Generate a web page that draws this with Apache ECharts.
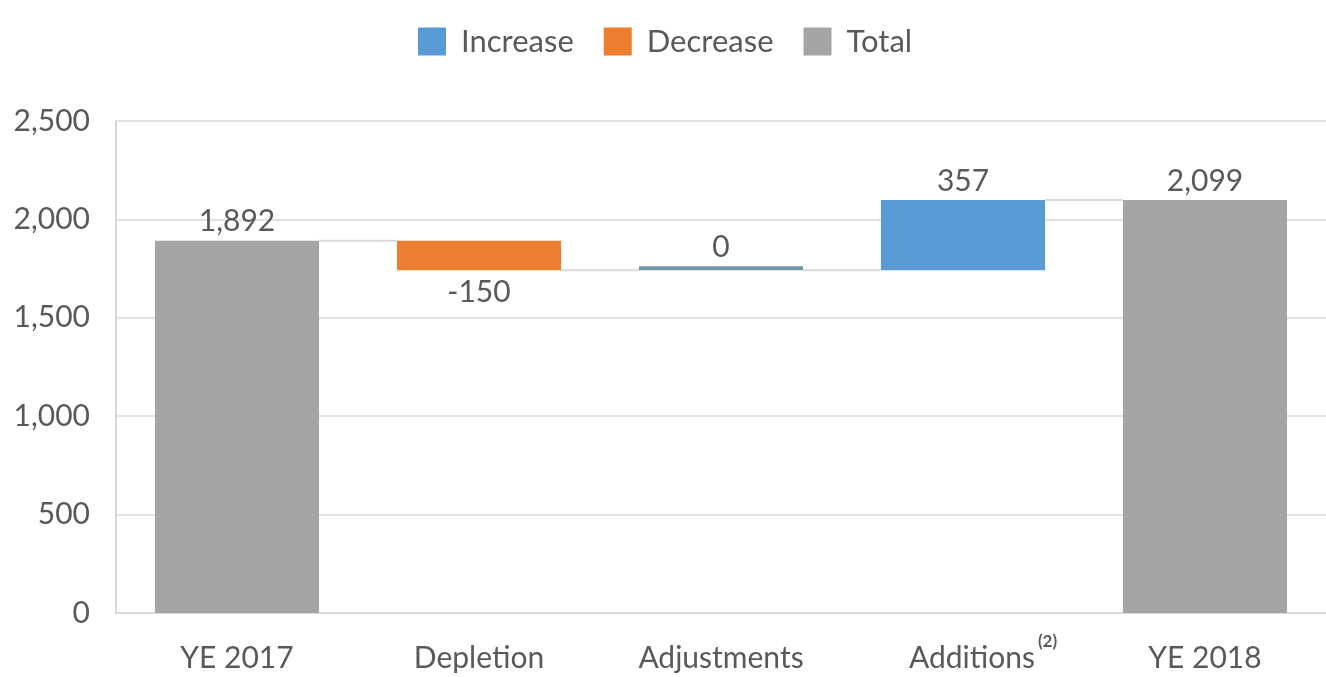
<!DOCTYPE html>
<html><head><meta charset="utf-8">
<script src="https://cdn.jsdelivr.net/npm/echarts@6/dist/echarts.min.js"></script>
<style>html,body{margin:0;padding:0;background:#fff}#c{width:1326px;height:677px}</style>
</head><body><div id="c"></div>
<script>
const categories = ['YE 2017', 'Depletion', 'Adjustments', 'Additions', 'YE 2018'];
const totalValues = [1892, null, null, null, 2099];
const increaseValues = [null, null, 0, 357, null];
const decreaseValues = [null, 150, null, null, null];
const yTicks = [0, 500, 1000, 1500, 2000, 2500];

// running level after each step
const base = [], levels = [];
let run = 0;
for (let i = 0; i < categories.length; i++) {
  if (totalValues[i] != null) { run = totalValues[i]; base.push('-'); }
  else if (decreaseValues[i] != null) { run -= decreaseValues[i]; base.push(run); }
  else { base.push(run); run += increaseValues[i]; }
  levels.push(run);
}
const connectors = [];
for (let i = 0; i < categories.length - 1; i++) connectors.push([i, levels[i]]);

const FONT = 'Lato, "Open Sans", sans-serif';
const TXT = '#595959';
const BW = 0.678;
const LBL = 30;

const chart = echarts.init(document.getElementById('c'), null, {renderer: 'canvas'});
chart.setOption({
  animation: false,
  textStyle: {fontFamily: FONT},
  legend: {
    top: 21, left: 413, itemWidth: 28, itemHeight: 28, itemGap: 30,
    textStyle: {fontSize: 31, color: TXT, fontFamily: FONT, padding: [0, 0, 0, 10]},
    data: [{name: 'Increase', icon: 'rect'}, {name: 'Decrease', icon: 'rect'}, {name: 'Total', icon: 'rect'}]
  },
  grid: {left: 116, right: -8, top: 121, bottom: 64, containLabel: false},
  xAxis: {
    type: 'category', data: categories,
    axisLine: {lineStyle: {color: '#d9d9d9', width: 2}},
    axisTick: {show: false},
    axisLabel: {
      interval: 0, hideOverlap: false,
      fontSize: LBL, color: TXT, margin: 20, fontFamily: FONT,
      formatter: v => v === 'Additions' ? '{mainA|Additions}{sup|(2)}' : '{main|' + v + '}',
      rich: {
        main: {fontSize: LBL, color: TXT, padding: [10, 0, 0, 0]},
        mainA: {fontSize: LBL, color: TXT, padding: [10, 0, 0, 40]},
        sup: {fontSize: 17, fontWeight: 'bold', color: TXT, verticalAlign: 'top', padding: [0, 0, 0, 3]}
      }
    }
  },
  yAxis: {
    type: 'value', min: 0, max: 2500, interval: 500,
    axisLine: {show: true, lineStyle: {color: '#d9d9d9', width: 2}},
    axisTick: {show: false},
    splitLine: {lineStyle: {color: '#e3e3e3', width: 2}},
    axisLabel: {fontSize: LBL, color: TXT, margin: 26, fontFamily: FONT,
      formatter: v => v.toLocaleString('en-US')}
  },
  series: [
    {
      type: 'custom', name: 'conn', silent: true, z: 1,
      data: connectors,
      renderItem: (params, api) => {
        const i = api.value(0), v = api.value(1);
        const a = api.coord([i, v]), b = api.coord([i + 1, v]);
        const hw = api.size([1, 0])[0] * BW / 2;
        return {type: 'line', shape: {x1: a[0] + hw, y1: a[1], x2: b[0] - hw, y2: b[1]},
          style: {stroke: '#d9d9d9', lineWidth: 2}};
      }
    },
    {
      type: 'bar', name: 'base', stack: 'w', barWidth: (BW * 100) + '%', z: 2,
      itemStyle: {color: 'transparent'}, silent: true,
      data: base
    },
    {
      type: 'bar', name: 'Increase', stack: 'w', z: 3, barMinHeight: 4,
      itemStyle: {color: '#5b9bd5'},
      label: {show: true, position: 'top', fontSize: LBL, color: TXT, distance: 4, fontFamily: FONT,
        formatter: p => p.value.toLocaleString('en-US')},
      data: increaseValues.map(v => v == null ? '-' : (v === 0 ? {value: v, itemStyle: {color: '#6f97a8'}} : v))
    },
    {
      type: 'bar', name: 'Decrease', stack: 'w', z: 3,
      itemStyle: {color: '#ed7d31'},
      label: {show: true, position: 'bottom', fontSize: LBL, color: TXT, distance: 7, fontFamily: FONT,
        formatter: p => '-' + p.value.toLocaleString('en-US')},
      data: decreaseValues.map(v => v == null ? '-' : v)
    },
    {
      type: 'bar', name: 'Total', stack: 'w', z: 3,
      itemStyle: {color: '#a5a5a5'},
      label: {show: true, position: 'top', fontSize: LBL, color: TXT, distance: 4, fontFamily: FONT,
        formatter: p => p.value.toLocaleString('en-US')},
      data: totalValues.map(v => v == null ? '-' : v)
    }
  ]
});
</script></body></html>
